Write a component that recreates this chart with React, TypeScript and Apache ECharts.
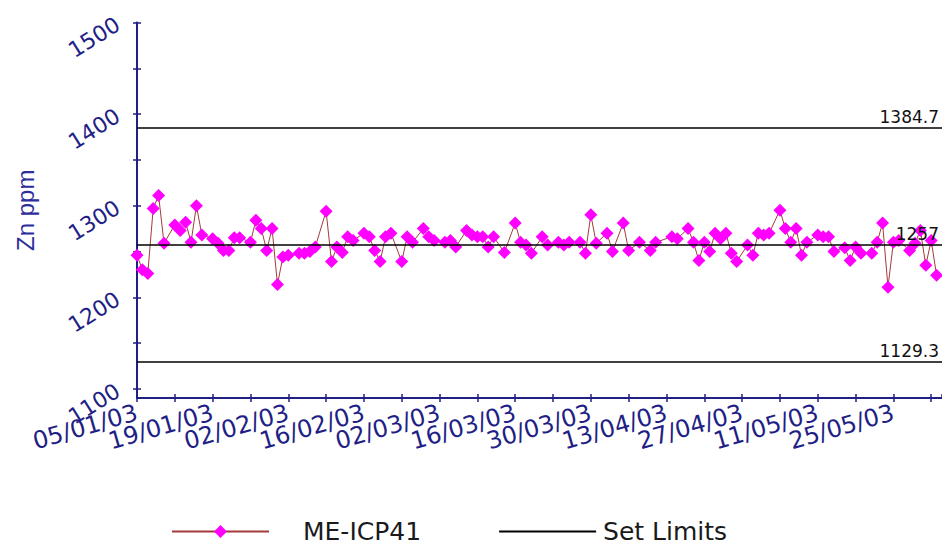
import React, { useEffect, useRef } from 'react';
import * as echarts from 'echarts';

// ---- data ----
const sampleDates: string[] = [
  '2003-01-05', '2003-01-06', '2003-01-07', '2003-01-08', '2003-01-09', '2003-01-10', '2003-01-12', '2003-01-13', '2003-01-14', '2003-01-15',
  '2003-01-16', '2003-01-17', '2003-01-19', '2003-01-20', '2003-01-21', '2003-01-22', '2003-01-23', '2003-01-24', '2003-01-26', '2003-01-27',
  '2003-01-28', '2003-01-29', '2003-01-30', '2003-01-31', '2003-02-01', '2003-02-02', '2003-02-04', '2003-02-05', '2003-02-06', '2003-02-07',
  '2003-02-09', '2003-02-10', '2003-02-11', '2003-02-12', '2003-02-13', '2003-02-14', '2003-02-16', '2003-02-17', '2003-02-18', '2003-02-19',
  '2003-02-20', '2003-02-21', '2003-02-23', '2003-02-24', '2003-02-25', '2003-02-27', '2003-02-28', '2003-03-01', '2003-03-03', '2003-03-04',
  '2003-03-05', '2003-03-07', '2003-03-08', '2003-03-09', '2003-03-10', '2003-03-11', '2003-03-12', '2003-03-14', '2003-03-16', '2003-03-17',
  '2003-03-18', '2003-03-19', '2003-03-21', '2003-03-22', '2003-03-24', '2003-03-25', '2003-03-26', '2003-03-28', '2003-03-29', '2003-03-30',
  '2003-03-31', '2003-04-02', '2003-04-03', '2003-04-05', '2003-04-06', '2003-04-08', '2003-04-10', '2003-04-11', '2003-04-14', '2003-04-15',
  '2003-04-17', '2003-04-18', '2003-04-19', '2003-04-20', '2003-04-21', '2003-04-22', '2003-04-23', '2003-04-24', '2003-04-25', '2003-04-26',
  '2003-04-28', '2003-04-29', '2003-04-30', '2003-05-01', '2003-05-02', '2003-05-04', '2003-05-05', '2003-05-06', '2003-05-07', '2003-05-08',
  '2003-05-09', '2003-05-11', '2003-05-12', '2003-05-13', '2003-05-14', '2003-05-16', '2003-05-17', '2003-05-18', '2003-05-19', '2003-05-21',
  '2003-05-22', '2003-05-23', '2003-05-24', '2003-05-25', '2003-05-26', '2003-05-28', '2003-05-29', '2003-05-30', '2003-05-31', '2003-06-01',
  '2003-06-02',
];

const znValues: number[] = [
  1246, 1230, 1226, 1297, 1311, 1259, 1279, 1273, 1282, 1260,
  1300, 1268, 1264, 1259, 1251, 1251, 1265, 1265, 1260, 1284,
  1275, 1251, 1275, 1214, 1244, 1246, 1248, 1248, 1250, 1255,
  1294, 1239, 1255, 1249, 1266, 1262, 1270, 1266, 1251, 1239,
  1266, 1270, 1239, 1266, 1260, 1275, 1266, 1262, 1260, 1262,
  1255, 1273, 1268, 1266, 1266, 1255, 1266, 1249, 1281, 1260,
  1257, 1248, 1266, 1257, 1260, 1257, 1260, 1260, 1248, 1290,
  1259, 1270, 1250, 1281, 1251, 1260, 1251, 1260, 1266, 1264,
  1275, 1260, 1240, 1260, 1250, 1270, 1264, 1270, 1248, 1239,
  1257, 1246, 1270, 1268, 1270, 1295, 1275, 1260, 1275, 1246,
  1260, 1268, 1266, 1266, 1250, 1254, 1240, 1255, 1248, 1248,
  1260, 1281, 1211, 1260, 1262, 1251, 1259, 1273, 1235, 1262,
  1224,
];

const limitValues: number[] = [1384.7, 1257, 1129.3];

const yLabelValues: number[] = [1100, 1200, 1300, 1400, 1500];
const yTickValues: number[] = [1100, 1150, 1200, 1250, 1300, 1350, 1400, 1450, 1500];
const yMin = 1090;
const yMax = 1500;

const axisStartDate = '2003-01-05';
const axisSpanDays = 149;
const tickEveryDays = 7;
const labelEveryDays = 14;

const seriesName = 'ME-ICP41';
const limitsName = 'Set Limits';

// ---- helpers ----
const DAY_MS = 86400000;
function isoToUTC(iso: string): number {
  const [y, m, d] = iso.split('-').map(Number);
  return Date.UTC(y, m - 1, d);
}
const startMs = isoToUTC(axisStartDate);
function dayIndex(iso: string): number {
  return Math.round((isoToUTC(iso) - startMs) / DAY_MS);
}
function formatDay(day: number): string {
  const t = new Date(startMs + day * DAY_MS);
  const dd = String(t.getUTCDate()).padStart(2, '0');
  const mm = String(t.getUTCMonth() + 1).padStart(2, '0');
  const yy = String(t.getUTCFullYear() % 100).padStart(2, '0');
  return `${dd}/${mm}/${yy}`;
}

const NAVY = '#1f1f86';
const WIDE = '"DejaVu Sans", sans-serif';

export default function App() {
  const ref = useRef<HTMLDivElement>(null);

  useEffect(() => {
    if (!ref.current) return;
    const chart = echarts.init(ref.current, undefined, { renderer: 'svg' });
    const points = sampleDates.map((d, i) => [dayIndex(d), znValues[i]]);

    const tickStyle = { color: NAVY, width: 1.5 };

    chart.setOption({
      animation: false,
      backgroundColor: '#ffffff',
      grid: { left: 137, right: 0, top: 22.5, bottom: 150, containLabel: false },
      legend: {
        data: [
          { name: seriesName, textStyle: { padding: [0, 0, 0, 29] } },
          { name: limitsName, itemStyle: { opacity: 0 }, textStyle: { padding: [0, 0, 0, 2] } },
        ],
        left: 171,
        top: 519,
        padding: 0,
        itemWidth: 97,
        itemHeight: 16,
        itemGap: 77,
        textStyle: {
          fontFamily: WIDE,
          fontSize: 25,
          color: '#1a1a1a',
          lineHeight: 24,
        },
      },
      xAxis: [
        {
          type: 'value',
          min: 0,
          max: axisSpanDays,
          interval: tickEveryDays,
          splitLine: { show: false },
          axisLine: { show: true, lineStyle: { color: NAVY, width: 2 } },
          axisTick: { show: true, length: 4, lineStyle: tickStyle },
          axisLabel: {
            rotate: 16,
            margin: 14,
            color: NAVY,
            fontFamily: WIDE,
            fontSize: 24,
            showMaxLabel: false,
            formatter: (v: number) => (v % labelEveryDays === 0 ? formatDay(v) : ''),
          },
        },
        {
          type: 'value',
          position: 'bottom',
          min: 0,
          max: axisSpanDays,
          interval: tickEveryDays,
          splitLine: { show: false },
          axisLine: { show: false },
          axisTick: { show: true, inside: true, length: 4, lineStyle: tickStyle },
          axisLabel: { show: false },
        },
      ],
      yAxis: [
        {
          type: 'value',
          min: yMin,
          max: yMax,
          name: 'Zn ppm',
          nameLocation: 'middle',
          nameGap: 100,
          nameRotate: 90,
          nameTextStyle: { color: '#2d2d9c', fontFamily: 'Liberation Sans, Arial, sans-serif', fontSize: 24 },
          splitLine: { show: false },
          axisLine: { show: true, lineStyle: { color: NAVY, width: 2 } },
          axisTick: { show: true, length: 4, lineStyle: tickStyle, customValues: yTickValues },
          axisLabel: {
            customValues: yLabelValues,
            rotate: 32,
            margin: 19,
            padding: [26, 0, 0, 0],
            color: NAVY,
            fontFamily: WIDE,
            fontSize: 22,
            formatter: (v: number) => String(v),
          },
        },
        {
          type: 'value',
          position: 'left',
          min: yMin,
          max: yMax,
          splitLine: { show: false },
          axisLine: { show: false },
          axisTick: { show: true, inside: true, length: 4, lineStyle: tickStyle, customValues: yTickValues },
          axisLabel: { show: false },
        },
      ],
      series: [
        {
          name: limitsName,
          type: 'line',
          data: [],
          symbol: 'none',
          itemStyle: { color: '#000000' },
          lineStyle: { color: '#000000', width: 1.5 },
          markLine: {
            silent: true,
            symbol: 'none',
            lineStyle: { color: '#000000', width: 1.5, type: 'solid' },
            label: {
              show: true,
              position: 'insideEndTop',
              distance: 3,
              color: '#111111',
              fontFamily: WIDE,
              fontSize: 17,
              formatter: (p: any) => String(p.value),
            },
            data: limitValues.map((v) => ({ yAxis: v })),
          },
        },
        {
          name: seriesName,
          type: 'line',
          data: points,
          symbol: 'diamond',
          symbolSize: 13,
          itemStyle: { color: '#ff00ff' },
          lineStyle: { color: '#a33a3a', width: 1 },
        },
      ],
    });

    return () => chart.dispose();
  }, []);

  return (
    <div
      ref={ref}
      style={{ position: 'absolute', left: 0, top: 0, width: 942, height: 548, background: '#fff' }}
    />
  );
}
